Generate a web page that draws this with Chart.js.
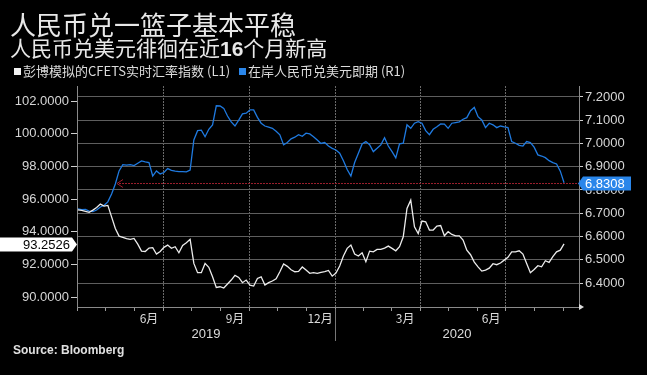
<!DOCTYPE html>
<html>
<head>
<meta charset="utf-8">
<script src="https://cdn.jsdelivr.net/npm/chart.js@4.4.0/dist/chart.umd.min.js"></script>
<style>
    html, body { margin: 0; padding: 0; background: #000; }
    #contenedor { position: relative; width: 647px; height: 375px; overflow: hidden; background: #000;
        font-family: 'Noto Sans CJK SC', 'Liberation Sans', sans-serif; color: #e8e8e8; }
    #grafico { position: absolute; left: 0; top: 0; }
    .titulo { position: absolute; left: 10px; top: 9px; font-size: 26px; line-height: 30px; white-space: nowrap; }
    .subtitulo { position: absolute; left: 10px; top: 34px; font-size: 21px; line-height: 26px; white-space: nowrap; }
    .subtitulo b { font-family: 'Liberation Sans', sans-serif; font-weight: bold; }
    .leyenda { position: absolute; top: 62px; font-size: 13px; line-height: 17px; white-space: nowrap; color: #dcdcdc; }
    .cuadro { display: inline-block; width: 7px; height: 7px; margin-right: 2px; vertical-align: 1px; }
    .fuente { position: absolute; left: 13px; top: 343px; font-family: 'Liberation Sans', sans-serif;
        font-weight: bold; font-size: 12px; color: #e0e0e0; }
</style>
</head>
<body>
<div id="contenedor">
    <canvas id="grafico" width="647" height="375"></canvas>
    <div class="titulo">人民币兑一篮子基本平稳</div>
    <div class="subtitulo">人民币兑美元徘徊在近<b>16</b>个月新高</div>
    <div class="leyenda" style="left:14px"><span class="cuadro" style="background:#f2f2f2"></span>彭博模拟的CFETS实时汇率指数 (L1)</div>
    <div class="leyenda" style="left:239px"><span class="cuadro" style="background:#2a86ea"></span>在岸人民币兑美元即期 (R1)</div>
    <div class="fuente">Source: Bloomberg</div>
</div>
<script>
// Serie: un valor cada 4 días desde el 1 de abril de 2019
const fechaInicio = '2019-04-01';
const pasoDias = 4;

// Índice CFETS simulado por Bloomberg (eje izquierdo)
const indiceCfets = [
    95.34, 95.30, 95.24, 95.18, 95.32, 95.48, 95.69, 95.57, 95.61, 94.91,
    94.20, 93.73, 93.65, 93.57, 93.53, 93.59, 93.24, 92.81, 92.79, 93.00,
    93.02, 92.63, 92.79, 93.04, 93.18, 92.98, 93.08, 92.71, 93.16, 93.32,
    93.53, 92.06, 91.49, 91.49, 92.06, 91.82, 91.24, 90.59, 90.63, 90.55,
    90.80, 91.04, 91.33, 91.20, 90.88, 91.04, 90.73, 90.67, 91.14, 91.24,
    90.73, 90.88, 90.98, 91.12, 91.55, 92.02, 91.88, 91.67, 91.55, 91.57,
    91.84, 91.65, 91.45, 91.49, 91.45, 91.51, 91.55, 91.63, 91.28, 91.47,
    91.90, 92.51, 92.98, 93.18, 92.63, 92.51, 92.71, 92.16, 92.81, 92.77,
    92.92, 92.92, 93.00, 93.12, 92.98, 92.83, 93.08, 93.69, 95.42, 95.93,
    94.30, 93.89, 94.65, 94.61, 94.10, 94.10, 94.34, 94.38, 93.75, 94.00,
    93.83, 93.75, 93.75, 93.49, 92.87, 92.59, 92.14, 91.85, 91.59, 91.65,
    91.77, 92.04, 91.98, 92.08, 92.26, 92.43, 92.77, 92.77, 92.83, 92.63,
    92.06, 91.49, 91.69, 91.92, 91.85, 92.22, 92.12, 92.47, 92.77, 92.87,
    93.2526
];

// Yuan onshore frente al dólar (eje derecho)
const usdCny = [
    6.719, 6.716, 6.717, 6.709, 6.707, 6.714, 6.727, 6.734, 6.749, 6.783,
    6.826, 6.882, 6.909, 6.907, 6.909, 6.905, 6.915, 6.925, 6.921, 6.918,
    6.860, 6.882, 6.869, 6.875, 6.892, 6.884, 6.881, 6.879, 6.879, 6.878,
    6.886, 7.015, 7.055, 7.057, 7.029, 7.061, 7.080, 7.162, 7.161, 7.151,
    7.118, 7.093, 7.075, 7.100, 7.127, 7.130, 7.144, 7.144, 7.112, 7.087,
    7.075, 7.070, 7.065, 7.052, 7.037, 6.994, 7.004, 7.020, 7.027, 7.038,
    7.031, 7.044, 7.041, 7.029, 7.015, 7.000, 7.004, 6.989, 6.979, 6.972,
    6.958, 6.926, 6.888, 6.860, 6.918, 6.958, 6.998, 7.008, 6.995, 6.965,
    6.979, 6.994, 7.025, 6.989, 6.965, 6.938, 6.998, 7.001, 7.080, 7.065,
    7.087, 7.094, 7.087, 7.055, 7.038, 7.061, 7.072, 7.084, 7.083, 7.065,
    7.087, 7.090, 7.093, 7.104, 7.111, 7.141, 7.155, 7.115, 7.101, 7.068,
    7.087, 7.080, 7.068, 7.075, 7.071, 7.068, 7.008, 7.001, 6.992, 6.989,
    7.008, 7.004, 6.984, 6.951, 6.946, 6.939, 6.926, 6.918, 6.912, 6.881,
    6.8308
];

// Marcas de los ejes
const ticksIzquierda = [90, 92, 94, 96, 98, 100, 102];
const ticksDerecha = [6.4, 6.5, 6.6, 6.7, 6.8, 6.9, 7.0, 7.1, 7.2];
const mesesEtiqueta = ['2019-06', '2019-09', '2019-12', '2020-03', '2020-06'];
const textosMes = ['6月', '9月', '12月', '3月', '6月'];
const anios = ['2019', '2020'];
const fechaMin = '2019-03-31';
const fechaMax = '2020-09-18';

// Convierte 'AAAA-MM-DD' a número de días
function diaDe(texto) {
    return Date.parse(texto + 'T00:00:00Z') / 86400000;
}

document.addEventListener('DOMContentLoaded', function() {
    const dia0 = diaDe(fechaInicio);
    const datosCfets = indiceCfets.map((v, i) => ({ x: dia0 + i * pasoDias, y: v }));
    const datosCny = usdCny.map((v, i) => ({ x: dia0 + i * pasoDias, y: v }));

    // Inicio de cada mes dentro del rango
    const iniciosMes = [];
    for (let a = 2019; a <= 2020; a++) {
        for (let m = 1; m <= 12; m++) {
            const d = Date.UTC(a, m - 1, 1) / 86400000;
            if (d >= diaDe(fechaMin) && d <= diaDe(fechaMax)) iniciosMes.push(d);
        }
    }
    function esTrimestre(d) {
        const m = new Date(d * 86400000).getUTCMonth();
        return m % 3 === 0;
    }

    // Etiquetas, línea del último valor y recuadros de valor
    const extras = {
        id: 'extras',
        afterDraw(chart) {
            const { ctx, chartArea, scales } = chart;
            const ejeX = scales.x, ejeL = scales.yL, ejeR = scales.yR;
            ctx.save();

            // meses
            ctx.fillStyle = '#dcdcdc';
            ctx.font = '12px "Noto Sans CJK SC"';
            ctx.textAlign = 'center';
            ctx.textBaseline = 'middle';
            mesesEtiqueta.forEach((m, i) => {
                const px = ejeX.getPixelForValue(diaDe(m + '-16'));
                ctx.fillText(textosMes[i], px, 318);
            });

            // años
            ctx.font = '13px "Liberation Sans"';
            anios.forEach(a => {
                const ini = Math.max(diaDe(a + '-01-01'), ejeX.min);
                const fin = Math.min(diaDe((+a + 1) + '-01-01'), ejeX.max);
                const px = (ejeX.getPixelForValue(ini) + ejeX.getPixelForValue(fin)) / 2;
                ctx.fillText(a, px, 334);
            });
            // separador de año
            const xAnio = Math.round(ejeX.getPixelForValue(diaDe('2020-01-01'))) + 0.5;
            ctx.strokeStyle = '#777';
            ctx.lineWidth = 1;
            ctx.beginPath();
            ctx.moveTo(xAnio, chartArea.bottom + 2);
            ctx.lineTo(xAnio, chartArea.bottom + 34);
            ctx.stroke();

            // flecha al final del eje X
            ctx.fillStyle = '#ddd';
            ctx.beginPath();
            ctx.moveTo(chartArea.right, chartArea.bottom - 3);
            ctx.lineTo(chartArea.right + 5, chartArea.bottom);
            ctx.lineTo(chartArea.right, chartArea.bottom + 3);
            ctx.fill();

            // línea punteada del último valor del yuan
            const ultimoCny = usdCny[usdCny.length - 1];
            const yB = Math.round(ejeR.getPixelForValue(ultimoCny)) + 0.5;
            let idx = usdCny.findIndex(v => v >= ultimoCny);
            const p0 = datosCny[idx - 1], p1 = datosCny[idx];
            const xCruce = p0.x + (ultimoCny - p0.y) / (p1.y - p0.y) * (p1.x - p0.x);
            const xIni = Math.round(ejeX.getPixelForValue(xCruce)) + 1;
            ctx.strokeStyle = '#9a1e2c';
            ctx.lineWidth = 1;
            ctx.setLineDash([2, 1]);
            ctx.beginPath();
            ctx.moveTo(xIni + 2, yB);
            ctx.lineTo(chartArea.right, yB);
            ctx.stroke();
            ctx.setLineDash([]);
            ctx.beginPath();
            ctx.moveTo(xIni + 6, yB - 4);
            ctx.lineTo(xIni, yB);
            ctx.lineTo(xIni + 6, yB + 4);
            ctx.stroke();

            // recuadro derecho (azul)
            ctx.fillStyle = '#2a86ea';
            ctx.beginPath();
            ctx.moveTo(chartArea.right - 1, yB);
            ctx.lineTo(chartArea.right + 4, yB - 7);
            ctx.lineTo(chartArea.right + 52, yB - 7);
            ctx.lineTo(chartArea.right + 52, yB + 7);
            ctx.lineTo(chartArea.right + 4, yB + 7);
            ctx.closePath();
            ctx.fill();
            ctx.fillStyle = '#fff';
            ctx.font = '13px "Liberation Sans"';
            ctx.textAlign = 'left';
            ctx.fillText(ultimoCny.toFixed(4), chartArea.right + 6, yB + 1);

            // recuadro izquierdo (blanco)
            const ultimoCfets = indiceCfets[indiceCfets.length - 1];
            const yC = Math.round(ejeL.getPixelForValue(ultimoCfets)) + 0.5;
            ctx.fillStyle = '#fff';
            ctx.beginPath();
            ctx.moveTo(0, yC - 7);
            ctx.lineTo(chartArea.left - 5, yC - 7);
            ctx.lineTo(chartArea.left, yC);
            ctx.lineTo(chartArea.left - 5, yC + 7);
            ctx.lineTo(0, yC + 7);
            ctx.closePath();
            ctx.fill();
            ctx.fillStyle = '#000';
            ctx.textAlign = 'right';
            ctx.fillText(ultimoCfets.toFixed(4), chartArea.left - 7, yC + 1);

            ctx.restore();
        }
    };

    const ctx = document.getElementById('grafico').getContext('2d');
    new Chart(ctx, {
        type: 'line',
        data: {
            datasets: [
                {
                    label: '在岸人民币兑美元即期 (R1)',
                    data: datosCny,
                    yAxisID: 'yR',
                    borderColor: '#1f7ae0',
                    borderWidth: 1.3,
                    pointRadius: 0,
                    tension: 0,
                    order: 2
                },
                {
                    label: '彭博模拟的CFETS实时汇率指数 (L1)',
                    data: datosCfets,
                    yAxisID: 'yL',
                    borderColor: '#ececec',
                    borderWidth: 1.3,
                    pointRadius: 0,
                    tension: 0,
                    order: 1
                }
            ]
        },
        options: {
            responsive: false,
            animation: false,
            layout: { padding: { top: 86, left: 0, right: 0, bottom: 0 } },
            plugins: { legend: { display: false }, tooltip: { enabled: false } },
            scales: {
                x: {
                    type: 'linear',
                    min: diaDe(fechaMin),
                    max: diaDe(fechaMax),
                    afterBuildTicks: eje => { eje.ticks = iniciosMes.map(v => ({ value: v })); },
                    afterFit: eje => { eje.height = 68; },
                    ticks: { display: false },
                    grid: {
                        color: c => (c.tick && esTrimestre(c.tick.value)) ? '#6a6a6a' : 'rgba(0,0,0,0)',
                        tickColor: '#9a9a9a',
                        tickLength: 4,
                        lineWidth: 1
                    },
                    border: { color: '#8a8a8a', dash: [2, 1] }
                },
                yL: {
                    position: 'left',
                    min: 89.39,
                    max: 102.92,
                    afterBuildTicks: eje => { eje.ticks = ticksIzquierda.map(v => ({ value: v })); },
                    afterFit: eje => { eje.width = 77; },
                    ticks: {
                        color: '#d6d6d6',
                        font: { family: 'Liberation Sans', size: 13 },
                        padding: 2,
                        callback: v => v.toFixed(4)
                    },
                    grid: { drawOnChartArea: false, tickColor: '#cfcfcf', tickLength: 6 },
                    border: { color: '#8a8a8a' }
                },
                yR: {
                    position: 'right',
                    min: 6.297,
                    max: 7.247,
                    afterBuildTicks: eje => { eje.ticks = ticksDerecha.map(v => ({ value: v })); },
                    afterFit: eje => { eje.width = 68; },
                    ticks: {
                        color: '#d6d6d6',
                        font: { family: 'Liberation Sans', size: 13 },
                        padding: 2,
                        callback: v => v.toFixed(4)
                    },
                    grid: { color: '#5e5e5e', lineWidth: 1, tickColor: '#cfcfcf', tickLength: 4 },
                    border: { color: '#8a8a8a' }
                }
            }
        },
        plugins: [extras]
    });
});
</script>
</body>
</html>
